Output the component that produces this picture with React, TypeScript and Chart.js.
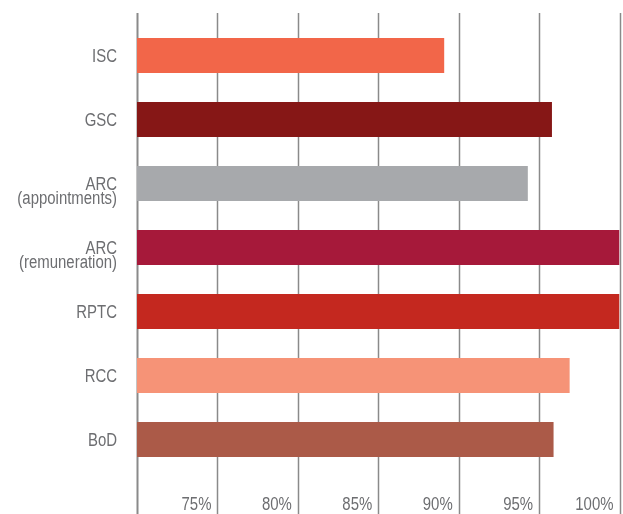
import React, { useEffect, useRef } from "react";
import { Chart, registerables } from "chart.js";

Chart.register(...registerables);

const categories: string[][] = [
  ["ISC"],
  ["GSC"],
  ["ARC", "(appointments)"],
  ["ARC", "(remuneration)"],
  ["RPTC"],
  ["RCC"],
  ["BoD"],
];
const values = [89.1, 95.8, 94.3, 100, 100, 96.9, 95.9];
const barColors = ["#f26649", "#861716", "#a7a9ac", "#a6193a", "#c4281f", "#f69377", "#ab5a48"];
const xTickLabels = ["", "75%", "80%", "85%", "90%", "95%", "100%"];

const FONT = "'Liberation Sans', Arial, sans-serif";
const FONT_SIZE = 18;
const NARROW = 0.83;
const TEXT = "#6d6e71";

function narrowText(ctx: CanvasRenderingContext2D, text: string, x: number, y: number, align: CanvasTextAlign) {
  ctx.save();
  ctx.translate(x, y);
  ctx.scale(NARROW, 1);
  ctx.textAlign = align;
  ctx.textBaseline = "alphabetic";
  ctx.fillText(text, 0, 0);
  ctx.restore();
}

const gridPlugin = {
  id: "customGrid",
  beforeDatasetsDraw(chart: any) {
    const x = chart.scales.x;
    const ctx = chart.ctx;
    ctx.save();
    x.ticks.forEach((t: any, i: number) => {
      const px = Math.round(x.getPixelForValue(t.value)) + 0.5;
      ctx.beginPath();
      ctx.lineWidth = i === 0 ? 2 : 1.5;
      ctx.strokeStyle = "#8a8a8a";
      ctx.moveTo(px, 13);
      ctx.lineTo(px, chart.height);
      ctx.stroke();
    });
    ctx.restore();
  },
  afterDraw(chart: any) {
    const ctx = chart.ctx as CanvasRenderingContext2D;
    const x = chart.scales.x;
    const y = chart.scales.y;
    ctx.save();
    ctx.fillStyle = TEXT;
    ctx.font = `${FONT_SIZE}px ${FONT}`;
    const cap = FONT_SIZE * 0.36;
    categories.forEach((lines, i) => {
      const cy = y.getPixelForValue(i);
      lines.forEach((line, j) => {
        narrowText(ctx, line, y.right - 20, cy + cap + j * 14, "right");
      });
    });
    x.ticks.forEach((t: any, i: number) => {
      const label = xTickLabels[i] ?? "";
      if (!label) return;
      const px = x.getPixelForValue(t.value);
      narrowText(ctx, label, px - 6, 510, "right");
    });
    ctx.restore();
  },
};

export default function App() {
  const ref = useRef<HTMLCanvasElement>(null);
  useEffect(() => {
    if (!ref.current) return;
    const chart = new Chart(ref.current, {
      type: "bar",
      data: {
        labels: categories.map((l) => l.join(" ")),
        datasets: [
          {
            data: values,
            backgroundColor: barColors,
            borderWidth: 0,
            categoryPercentage: 1,
            barPercentage: 0.547,
          },
        ],
      },
      options: {
        indexAxis: "y",
        animation: false,
        responsive: false,
        devicePixelRatio: 1,
        layout: { padding: { top: 23.5, right: 3.5, left: 0, bottom: 0 } },
        plugins: { legend: { display: false }, tooltip: { enabled: false } },
        scales: {
          x: {
            min: 70,
            max: 100,
            grid: { display: false, drawTicks: false },
            border: { display: false },
            ticks: { display: false, stepSize: 5, autoSkip: false, maxRotation: 0 },
            afterFit: (s: any) => {
              s.height = 42.5;
              s.paddingLeft = 0;
              s.paddingRight = 0;
            },
          },
          y: {
            grid: { display: false, drawTicks: false },
            border: { display: false },
            ticks: { display: false, autoSkip: false },
            afterFit: (s: any) => {
              s.width = 137;
              s.paddingTop = 0;
              s.paddingBottom = 0;
            },
          },
        },
      },
      plugins: [gridPlugin],
    });
    return () => chart.destroy();
  }, []);
  return (
    <div style={{ position: "absolute", left: 0, top: 0, width: 623, height: 514, background: "#fff" }}>
      <canvas ref={ref} width={623} height={514} style={{ width: 623, height: 514, display: "block" }} />
    </div>
  );
}
